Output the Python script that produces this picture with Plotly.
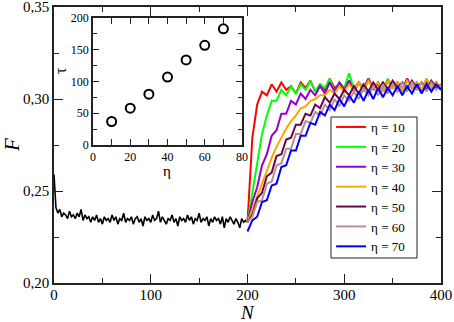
import plotly.graph_objects as go

# ---------------- data ----------------
black_N = [0, 1] + list(range(2, 201, 2))
black_F = [0.259, 0.246,
           0.241, 0.238, 0.240, 0.236, 0.238, 0.237, 0.235, 0.239, 0.236, 0.237,
           0.235, 0.238, 0.236, 0.240, 0.234, 0.237, 0.235, 0.236, 0.233, 0.236,
           0.234, 0.237, 0.233, 0.235, 0.232, 0.236, 0.234, 0.235, 0.233, 0.237,
           0.234, 0.236, 0.232, 0.235, 0.234, 0.238, 0.233, 0.235, 0.234, 0.236,
           0.232, 0.235, 0.236, 0.233, 0.235, 0.231, 0.236, 0.234, 0.235, 0.233,
           0.237, 0.234, 0.235, 0.239, 0.233, 0.236, 0.234, 0.232, 0.235, 0.234,
           0.237, 0.233, 0.235, 0.231, 0.236, 0.234, 0.235, 0.233, 0.237, 0.234,
           0.236, 0.232, 0.235, 0.234, 0.238, 0.233, 0.235, 0.234, 0.236, 0.231,
           0.235, 0.233, 0.236, 0.234, 0.235, 0.232, 0.236, 0.230, 0.235, 0.233,
           0.236, 0.234, 0.232, 0.235, 0.233, 0.230, 0.235, 0.233, 0.234, 0.233]

eta_N = list(range(200, 401, 5))
F_eta10 = [0.233, 0.279, 0.297, 0.304, 0.302, 0.308, 0.304, 0.309, 0.305, 0.307,
           0.303, 0.309, 0.306, 0.310, 0.304, 0.308, 0.305, 0.311, 0.306, 0.308,
           0.304, 0.310, 0.306, 0.309, 0.305, 0.311, 0.306, 0.308, 0.304, 0.310,
           0.307, 0.309, 0.305, 0.311, 0.306, 0.308, 0.305, 0.310, 0.306, 0.309, 0.305]
F_eta20 = [0.233, 0.249, 0.264, 0.281, 0.291, 0.299, 0.299, 0.305, 0.302, 0.307,
           0.303, 0.308, 0.305, 0.310, 0.304, 0.308, 0.306, 0.311, 0.304, 0.309,
           0.306, 0.314, 0.305, 0.309, 0.304, 0.310, 0.306, 0.309, 0.305, 0.311,
           0.306, 0.308, 0.304, 0.310, 0.306, 0.309, 0.305, 0.311, 0.306, 0.308, 0.305]
F_eta30 = [0.233, 0.244, 0.252, 0.264, 0.270, 0.280, 0.283, 0.292, 0.292, 0.299,
           0.297, 0.303, 0.300, 0.305, 0.302, 0.307, 0.303, 0.309, 0.304, 0.309,
           0.305, 0.310, 0.304, 0.309, 0.306, 0.311, 0.305, 0.309, 0.304, 0.310,
           0.306, 0.309, 0.305, 0.311, 0.306, 0.309, 0.304, 0.310, 0.306, 0.309, 0.305]
F_eta40 = [0.233, 0.240, 0.247, 0.255, 0.262, 0.268, 0.274, 0.279, 0.284, 0.288,
           0.291, 0.295, 0.296, 0.299, 0.300, 0.302, 0.302, 0.305, 0.303, 0.307,
           0.304, 0.308, 0.305, 0.309, 0.305, 0.310, 0.306, 0.309, 0.304, 0.310,
           0.306, 0.309, 0.305, 0.310, 0.306, 0.309, 0.305, 0.311, 0.306, 0.309, 0.305]
F_eta50 = [0.233, 0.237, 0.246, 0.249, 0.258, 0.260, 0.269, 0.270, 0.278, 0.279,
           0.286, 0.286, 0.292, 0.291, 0.297, 0.295, 0.301, 0.298, 0.303, 0.300,
           0.305, 0.302, 0.307, 0.303, 0.308, 0.304, 0.309, 0.305, 0.309, 0.305,
           0.310, 0.306, 0.309, 0.305, 0.310, 0.306, 0.309, 0.305, 0.310, 0.306, 0.308]
F_eta60 = [0.233, 0.236, 0.244, 0.245, 0.254, 0.255, 0.264, 0.265, 0.273, 0.273,
           0.281, 0.281, 0.288, 0.287, 0.293, 0.291, 0.297, 0.294, 0.300, 0.296,
           0.302, 0.299, 0.304, 0.300, 0.306, 0.302, 0.307, 0.302, 0.308, 0.303,
           0.308, 0.304, 0.309, 0.304, 0.309, 0.305, 0.309, 0.304, 0.309, 0.305, 0.308]
F_eta70 = [0.228, 0.234, 0.236, 0.244, 0.245, 0.253, 0.254, 0.263, 0.264, 0.272,
           0.272, 0.280, 0.280, 0.287, 0.286, 0.293, 0.291, 0.297, 0.294, 0.300,
           0.296, 0.302, 0.298, 0.304, 0.299, 0.305, 0.300, 0.306, 0.301, 0.306,
           0.302, 0.307, 0.302, 0.307, 0.303, 0.308, 0.303, 0.308, 0.304, 0.308, 0.305]

series_names = ["η = 10", "η = 20", "η = 30", "η = 40", "η = 50", "η = 60", "η = 70"]
series_values = [F_eta10, F_eta20, F_eta30, F_eta40, F_eta50, F_eta60, F_eta70]
series_colors = ["#ff0000", "#00ff00", "#9400d3", "#ffa500", "#670748", "#bc8f8f", "#0000ff"]

inset_eta = [10, 20, 30, 40, 50, 60, 70]
inset_tau = [37, 58, 80, 107, 134, 157, 183]

# ---------------- figure ----------------
SERIF = "Liberation Serif, Times New Roman, serif"
fig = go.Figure()

fig.add_trace(go.Scatter(x=black_N, y=black_F, mode="lines",
                         line=dict(color="black", width=1.6),
                         showlegend=False, xaxis="x", yaxis="y"))

for name, vals, col in zip(series_names, series_values, series_colors):
    fig.add_trace(go.Scatter(x=eta_N, y=vals, mode="lines", name=name,
                             line=dict(color=col, width=2),
                             xaxis="x", yaxis="y"))

fig.add_trace(go.Scatter(x=inset_eta, y=inset_tau, mode="markers",
                         marker=dict(symbol="circle-open", size=9, color="black",
                                     line=dict(width=2, color="black")),
                         showlegend=False, xaxis="x2", yaxis="y2"))

axis_common = dict(showline=True, linecolor="#222", linewidth=1.5, mirror="allticks",
                   ticks="inside", tickcolor="#222", showgrid=False, zeroline=False,
                   automargin=False, ticklabeloverflow="allow")

fig.update_layout(
    width=454, height=322,
    margin=dict(l=54, r=13, t=7, b=39, autoexpand=False),
    paper_bgcolor="white", plot_bgcolor="white",
    separators=",.",
    font=dict(family=SERIF, color="black"),
    xaxis=dict(domain=[0, 1], range=[0, 400], tickvals=[0, 100, 200, 300, 400],
               ticklen=9, tickwidth=1.2, ticklabelstandoff=-3,
               minor=dict(dtick=50, ticklen=5, ticks="inside", tickcolor="#222", tickwidth=1.2),
               tickfont=dict(size=15, family=SERIF),
               **axis_common),
    yaxis=dict(domain=[0, 1], range=[0.20, 0.35], tickvals=[0.20, 0.25, 0.30, 0.35],
               tickformat=".2f", ticklen=9, tickwidth=1.2,
               minor=dict(dtick=0.025, ticklen=5, ticks="inside", tickcolor="#222", tickwidth=1.2),
               tickfont=dict(size=15, family=SERIF),
               **axis_common),
    xaxis2=dict(domain=[0.1008, 0.4858], anchor="y2", range=[0, 80],
                tickvals=[0, 20, 40, 60, 80], ticklen=6, tickwidth=1,
                minor=dict(dtick=10, ticklen=6, ticks="inside", tickcolor="#222", tickwidth=1),
                tickfont=dict(size=12, family=SERIF),
                **axis_common),
    yaxis2=dict(domain=[0.50, 0.960], anchor="x2", range=[0, 200],
                tickvals=[0, 50, 100, 150, 200], ticklen=6, tickwidth=1,
                minor=dict(dtick=25, ticklen=4, ticks="inside", tickcolor="#222", tickwidth=1),
                tickfont=dict(size=12, family=SERIF),
                **axis_common),
    legend=dict(x=0.716, y=0.6196, xanchor="left", yanchor="top",
                bgcolor="rgba(0,0,0,0)", borderwidth=0,
                font=dict(size=13, family=SERIF), itemwidth=30,
                tracegroupgap=0),
    shapes=[
        dict(type="rect", xref="paper", yref="paper", layer="below",
             x0=(331 - 54) / 387, x1=(417 - 54) / 387,
             y0=(283 - 258) / 276, y1=(283 - 117) / 276,
             line=dict(color="#222", width=1), fillcolor="white"),
    ],
    annotations=[
        dict(text="<i>N</i>", xref="paper", yref="paper", x=0.5, y=-(312 - 283) / 276,
             xanchor="center", yanchor="middle", showarrow=False,
             font=dict(size=19, family=SERIF)),
        dict(text="<i>F</i>", xref="paper", yref="paper", x=-0.1085, y=0.5,
             xanchor="center", yanchor="middle", showarrow=False, textangle=-90,
             font=dict(size=21, family=SERIF)),
        dict(text="η", xref="paper", yref="paper", x=0.292, y=(283 - 171) / 276,
             xanchor="center", yanchor="middle", showarrow=False,
             font=dict(size=15, family=SERIF)),
        dict(text="τ", xref="paper", yref="paper", x=0.018, y=0.772,
             xanchor="center", yanchor="middle", showarrow=False, textangle=-90,
             font=dict(size=16, family=SERIF)),
    ],
)

fig.write_html("out.html", config={"displayModeBar": False},
               post_script="document.body.style.margin='0';document.body.style.overflow='hidden';")
